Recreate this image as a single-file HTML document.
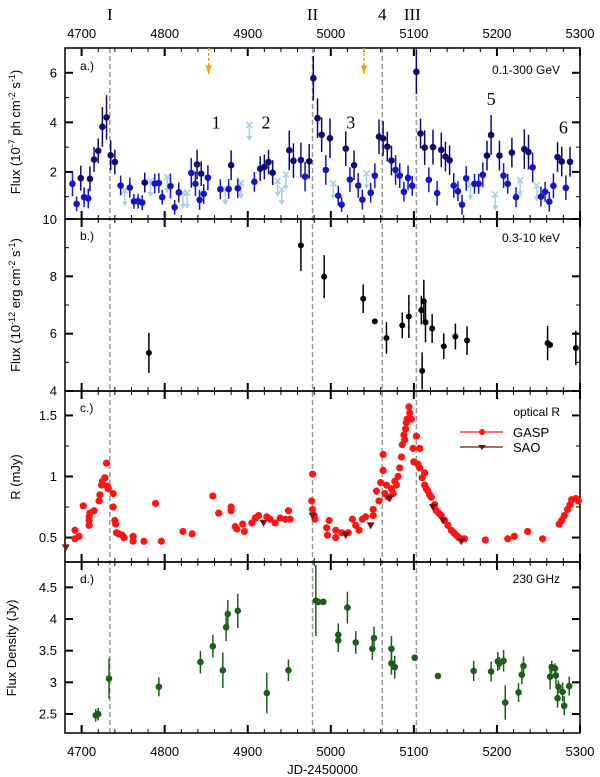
<!DOCTYPE html>
<html><head><meta charset="utf-8"><style>
html,body{margin:0;padding:0;background:#fff}
svg{display:block;font-family:"Liberation Sans",sans-serif}
</style></head><body>
<svg id="chart" width="600" height="777" viewBox="0 0 600 777" xmlns="http://www.w3.org/2000/svg"></svg>
<script>
// ---- data ----
const xTicks=[4700,4800,4900,5000,5100,5200,5300];
const flareLines=[4734,4978,5062,5103];
const flareLabels=["I","II","4","III"];
// Panel a: gamma-ray [JD, flux, err]
const gNavy=[[4699,1.75,0.5],[4710,1.72,0.5],[4715,2.5,0.5],[4720,2.85,0.5],[4725,3.82,0.8],[4730,4.2,0.9],[4735,2.67,0.6],[4740,2.4,0.5],[4776,1.57,0.4],[4839,2.3,0.6],[4844,1.93,0.5],[4880,2.27,0.6],[4915,2.13,0.5],[4920,2.2,0.5],[4925,2.4,0.5],[4930,1.97,0.5],[4950,2.87,0.8],[4955,2.45,0.7],[4964,2.48,0.7],[4974,2.43,0.7],[4979,5.78,0.9],[4984,4.17,0.8],[4989,3.5,0.7],[4999,3.36,0.8],[5018,2.94,0.7],[5028,2.27,0.6],[5058,3.42,0.7],[5063,3.35,0.7],[5068,3.02,0.6],[5073,2.46,0.6],[5103,6.04,0.9],[5108,3.55,0.6],[5113,2.98,0.7],[5123,3.0,0.7],[5133,2.89,0.7],[5138,2.62,0.6],[5143,2.47,0.6],[5188,2.66,0.6],[5193,3.49,0.8],[5203,2.66,0.6],[5218,2.78,0.6],[5233,2.92,0.8],[5238,2.8,0.7],[5273,2.6,0.6],[5278,2.42,0.6],[5288,2.41,0.6]];
const gBlue=[[4689,1.52,0.5],[4694,0.71,0.3],[4703,0.98,0.4],[4708,0.93,0.4],[4747,1.45,0.4],[4758,1.37,0.4],[4763,0.81,0.3],[4768,0.82,0.3],[4773,0.76,0.3],[4788,1.53,0.4],[4793,1.55,0.4],[4797,0.98,0.3],[4807,1.43,0.5],[4812,0.57,0.3],[4817,1.17,0.4],[4832,1.96,0.6],[4837,1.52,0.5],[4842,0.87,0.4],[4847,1.11,0.4],[4852,1.77,0.5],[4867,1.3,0.4],[4877,1.31,0.4],[4888,1.34,0.4],[4908,1.6,0.4],[4969,1.81,0.6],[4994,2.08,0.6],[5009,1.04,0.4],[5013,0.68,0.3],[5023,1.69,0.5],[5033,1.45,0.5],[5038,0.88,0.4],[5048,1.16,0.4],[5053,1.85,0.5],[5078,2.08,0.6],[5083,1.85,0.5],[5088,1.2,0.4],[5093,1.76,0.5],[5098,1.44,0.4],[5118,1.68,0.5],[5128,1.14,0.5],[5148,1.45,0.5],[5153,1.22,0.4],[5158,0.68,0.4],[5163,1.74,0.5],[5173,1.52,0.4],[5178,1.52,0.4],[5183,1.88,0.5],[5208,1.85,0.5],[5213,1.52,0.4],[5223,0.98,0.4],[5243,2.18,0.6],[5253,1.0,0.4],[5258,1.2,0.4],[5263,0.8,0.4],[5268,1.44,0.5],[5283,1.36,0.5]];
const gLimits=[[4752,1.25],[4783,1.63],[4803,1.8],[4822,1.16],[4827,1.16],[4873,1.3],[4892,1.55],[4902,3.9],[4936,1.63],[4941,1.3],[4946,1.9],[5003,1.54],[5043,1.94],[5168,1.5],[5198,1.09],[5228,1.66],[5248,1.45]];
const gOrange=[4853,5040];
const gNumLabels=["1","2","3","5","6"];
const gNumX=[4862,4922,5024,5193,5280];
const gNumY=[4.0,4.0,4.0,4.95,3.8];
// Panel b: X-ray [JD, flux, err]
const xray=[[4781,5.33,0.7],[4964,9.08,0.9],[4992,7.99,0.75],[5039,7.22,0.5],[5053,6.43,0.08],[5067,5.85,0.55],[5086,6.29,0.45],[5094,6.6,0.75],[5109,6.82,0.5],[5112,7.13,0.75],[5114,6.4,0.7],[5110,4.7,0.65],[5122,6.18,0.5],[5136,5.56,0.45],[5150,5.9,0.45],[5164,5.76,0.5],[5261,5.67,0.6],[5264,5.61,0.1],[5295,5.5,0.6]];
// Panel c: optical R GASP [JD, mJy]
const gasp=[[4692,0.56],[4692,0.49],[4697,0.51],[4702,0.76],[4709,0.6],[4709,0.64],[4709,0.67],[4710,0.7],[4715,0.72],[4721,0.8],[4722,0.85],[4724,0.93],[4725,0.96],[4728,0.99],[4730,1.11],[4731,0.92],[4732,0.9],[4738,0.86],[4738,0.75],[4740,0.64],[4741,0.61],[4742,0.54],[4745,0.53],[4749,0.52],[4751,0.5],[4762,0.51],[4762,0.47],[4775,0.47],[4789,0.78],[4796,0.47],[4822,0.55],[4833,0.53],[4858,0.84],[4865,0.7],[4880,0.75],[4880,0.72],[4885,0.59],[4887,0.57],[4894,0.61],[4896,0.55],[4905,0.62],[4909,0.66],[4913,0.68],[4923,0.67],[4927,0.65],[4933,0.62],[4939,0.66],[4945,0.65],[4949,0.72],[4951,0.65],[4978,1.02],[4977,0.8],[4978,0.73],[4980,0.68],[4981,0.65],[4995,0.58],[4996,0.52],[4998,0.64],[5006,0.56],[5006,0.5],[5013,0.54],[5021,0.54],[5026,0.65],[5030,0.6],[5034,0.56],[5038,0.65],[5042,0.67],[5051,0.73],[5051,0.68],[5055,0.88],[5058,0.8],[5060,0.95],[5063,1.18],[5063,1.05],[5065,0.86],[5067,0.93],[5069,0.83],[5073,0.9],[5075,0.86],[5077,0.96],[5079,0.93],[5081,1.0],[5083,1.07],[5085,1.16],[5086,1.26],[5088,1.34],[5089,1.3],[5090,1.39],[5091,1.44],[5092,1.47],[5094,1.57],[5095,1.52],[5097,1.47],[5099,1.23],[5100,1.12],[5103,1.33],[5105,1.1],[5107,1.23],[5107,1.07],[5110,0.99],[5113,1.03],[5113,0.93],[5115,0.9],[5117,0.88],[5119,0.85],[5121,0.83],[5125,0.77],[5127,0.72],[5130,0.7],[5133,0.68],[5137,0.64],[5141,0.6],[5145,0.56],[5148,0.54],[5151,0.52],[5154,0.5],[5157,0.49],[5161,0.49],[5186,0.48],[5213,0.49],[5221,0.51],[5237,0.55],[5255,0.49],[5275,0.61],[5278,0.64],[5281,0.68],[5285,0.73],[5288,0.77],[5290,0.81],[5295,0.82],[5298,0.8]];
const sao=[[4681,0.42],[4919,0.62],[4978,0.68],[5018,0.52],[5048,0.6],[5071,0.82],[5123,0.75],[5135,0.64],[5157,0.47]];
// Panel d: 230 GHz [JD, Jy, err]
const mm=[[4717,2.48,0.1],[4720,2.5,0.1],[4733,3.06,0.32],[4793,2.93,0.15],[4843,3.32,0.18],[4858,3.57,0.18],[4870,3.19,0.28],[4874,3.87,0.22],[4876,4.08,0.22],[4888,4.13,0.27],[4923,2.83,0.32],[4949,3.19,0.17],[4982,4.29,0.56],[4985,4.27,0.05],[4991,4.27,0.05],[5009,3.75,0.18],[5009,3.66,0.18],[5020,4.18,0.25],[5030,3.63,0.18],[5050,3.53,0.18],[5052,3.7,0.18],[5073,3.53,0.2],[5073,3.3,0.18],[5077,3.24,0.18],[5101,3.39,0.05],[5129,3.1,0.04],[5172,3.18,0.16],[5193,3.17,0.16],[5201,3.33,0.15],[5203,3.3,0.1],[5208,3.34,0.17],[5210,2.68,0.27],[5226,2.84,0.15],[5230,3.12,0.15],[5232,3.26,0.15],[5264,3.09,0.2],[5266,3.24,0.1],[5270,3.22,0.08],[5271,3.11,0.15],[5273,2.75,0.15],[5274,2.93,0.1],[5279,2.85,0.15],[5281,2.63,0.15],[5287,2.94,0.15]];

// ---- layout ----
const NS="http://www.w3.org/2000/svg";
const svg=document.getElementById("chart");
const L=65,R=580,XMIN=4680,XMAX=5300;
const X=v=>L+(v-XMIN)/(XMAX-XMIN)*(R-L);
function el(tag,attrs,parent){const e=document.createElementNS(NS,tag);for(const k in attrs)e.setAttribute(k,attrs[k]);(parent||svg).appendChild(e);return e;}
function txt(s,x,y,size,anchor,parent,fam){const t=el("text",{x:x,y:y,"font-size":size,"text-anchor":anchor||"middle",fill:"#000"},parent);if(fam)t.setAttribute("font-family",fam);t.textContent=s;return t;}

const panels=[
 {id:"a",top:48,bot:219,min:0.1,max:7.0,major:[2,4,6],minor:[1,3,5,7],labels:["2","4","6"]},
 {id:"b",top:219,bot:391,min:4,max:10,major:[4,6,8,10],minor:[5,7,9],labels:["4","6","8","10"]},
 {id:"c",top:391,bot:562,min:0.3,max:1.7,major:[0.5,1,1.5],minor:[0.75,1.25],labels:["0.5","1","1.5"]},
 {id:"d",top:562,bot:733,min:2.2,max:4.9,major:[2.5,3,3.5,4,4.5],minor:[],labels:["2.5","3","3.5","4","4.5"]}
];
panels.forEach(p=>{p.Y=v=>p.bot-(v-p.min)/(p.max-p.min)*(p.bot-p.top);});
const [pa,pb,pc,pd]=panels;

// dashed flare lines
flareLines.forEach((d,i)=>{
 const ln=el("line",{x1:X(d),x2:X(d),y1:48,y2:733,stroke:"#999","stroke-width":1.5,"stroke-dasharray":"5,3"});
 
 
 const t=txt(flareLabels[i],X(d)-(flareLabels[i]==="III"?4:0),20,17,"middle",null,'"Liberation Serif",serif');
 
 
});

// axes frames & ticks
panels.forEach(p=>{
 const g=el("g",{});
 
 
 el("rect",{x:L,y:p.top,width:R-L,height:p.bot-p.top,fill:"none",stroke:"#000","stroke-width":1.5},g);
 for(let v=XMIN;v<=XMAX;v+=20){
  const major=v%100===0;const len=major?8:4;const x=X(v);
  el("line",{x1:x,x2:x,y1:p.bot,y2:p.bot-len,stroke:"#000","stroke-width":major?2:1},g);
  el("line",{x1:x,x2:x,y1:p.top,y2:p.top+len,stroke:"#000","stroke-width":major?2:1},g);
 }
 p.major.forEach((v,i)=>{const y=p.Y(v);
  el("line",{x1:L,x2:L+8,y1:y,y2:y,stroke:"#000","stroke-width":2},g);
  el("line",{x1:R,x2:R-8,y1:y,y2:y,stroke:"#000","stroke-width":2},g);
  if(!(p.id==="b"&&v===10)){const t=txt(p.labels[i],57,y+4.5,13,"end",g);}
 });
 p.minor.forEach(v=>{const y=p.Y(v);
  el("line",{x1:L,x2:L+4,y1:y,y2:y,stroke:"#000"},g);
  el("line",{x1:R,x2:R-4,y1:y,y2:y,stroke:"#000"},g);
 });
});
txt("10",57,224,13,"end");
xTicks.forEach(v=>{
 const t=txt(String(v),X(v),38,13);
 const b=txt(String(v),X(v),756,13);
});

// panel labels
[["a.)",pa.top+22,"0.1-300 GeV",pa.top+26],["b.)",pb.top+21,"0.3-10 keV",pb.top+23],["c.)",pc.top+21,"optical R",pc.top+25],["d.)",pd.top+21,"230 GHz",pd.top+21]].forEach((a,i)=>{
 const t1=txt(a[0],80,a[1],12,"start");
 const t2=txt(a[2],560,a[3],12,"end");
});

// y-axis titles
function ytitle(html,x,y,name){const t=el("text",{x:0,y:0,"font-size":13,"text-anchor":"middle",transform:`translate(${x},${y}) rotate(-90)`});t.innerHTML=html;}
ytitle('Flux (10<tspan dy="-5" font-size="9">-7</tspan><tspan dy="5"> ph cm</tspan><tspan dy="-5" font-size="9">-2</tspan><tspan dy="5"> s</tspan><tspan dy="-5" font-size="9">-1</tspan><tspan dy="5">)</tspan>',20,132,'y-axis-title-gamma');
ytitle('Flux (10<tspan dy="-5" font-size="9">-12</tspan><tspan dy="5"> erg cm</tspan><tspan dy="-5" font-size="9">-2</tspan><tspan dy="5"> s</tspan><tspan dy="-5" font-size="9">-1</tspan><tspan dy="5">)</tspan>',20,305,'y-axis-title-xray');
ytitle('R (mJy)',20,477,'y-axis-title-optical');
ytitle('Flux Density (Jy)',16,648,'y-axis-title-radio');
const xt=txt("JD-2450000",X(4990),774,13);

// ---- marks ----
function pt(p,d,color,r,name,errw){
 const g=el("g",{});
 
 
 const x=X(d[0]),y=p.Y(d[1]);
 if(d[2]) el("line",{x1:x,x2:x,y1:Math.max(p.top,p.Y(d[1]+d[2])),y2:Math.min(p.bot,p.Y(d[1]-d[2])),stroke:color,"stroke-width":errw||1.5},g);
 el("circle",{cx:x,cy:y,r:r,fill:color},g);
}
gLimits.forEach(d=>{
 const g=el("g",{});
 
 
 const x=X(d[0]),y=pa.Y(d[1]),c="#a9cfe0";
 el("line",{x1:x,x2:x,y1:y,y2:y+14,stroke:c,"stroke-width":1.5},g);
 el("path",{d:`M${x-3},${y+11}L${x+3},${y+11}L${x},${y+16}Z`,fill:c},g);
 el("path",{d:`M${x-3},${y-3}L${x+3},${y+3}M${x+3},${y-3}L${x-3},${y+3}`,stroke:c,"stroke-width":1.5},g);
});
gBlue.forEach(d=>pt(pa,d,"#1414c8",3.3,"gamma-point-blue"));
gNavy.forEach(d=>pt(pa,d,"#0c0c70",3.3,"gamma-point-navy"));
gOrange.forEach(v=>{
 const g=el("g",{});
 
 
 const x=X(v);
 el("line",{x1:x,x2:x,y1:pa.top,y2:pa.Y(6.1),stroke:"#f0a020","stroke-width":1.5,"stroke-dasharray":"3,2"},g);
 el("path",{d:`M${x-3},${pa.Y(6.3)}L${x+3},${pa.Y(6.3)}L${x},${pa.Y(5.9)}Z`,fill:"#f0a020"},g);
});
gNumLabels.forEach((s,i)=>{
 const t=txt(s,X(gNumX[i]),pa.Y(gNumY[i])+6,18,"middle",null,'"Liberation Serif",serif');
 
 
});
xray.forEach(d=>pt(pb,d,"#000",3,"xray-point"));
gasp.forEach(d=>pt(pc,d,"#ff1414",3.6,"optical-gasp-point"));
sao.forEach(d=>{
 const g=el("g",{});
 
 
 const x=X(d[0]),y=pc.Y(d[1]);
 el("path",{d:`M${x-4},${y-3}L${x+4},${y-3}L${x},${y+4}Z`,fill:"#7a1010"},g);
});
mm.forEach(d=>pt(pd,d,"#1b5e1b",3.3,"radio-point",1.5));

// legend
const lg=el("g",{});


el("line",{x1:460,x2:503,y1:432,y2:432,stroke:"#ff1414","stroke-width":1.2},lg);
el("circle",{cx:482,cy:432,r:3,fill:"#ff1414"},lg);
txt("GASP",513,437,13,"start",lg);
el("line",{x1:460,x2:503,y1:447,y2:447,stroke:"#7a1010","stroke-width":1.2},lg);
el("path",{d:"M478,445L486,445L482,450Z",fill:"#7a1010"},lg);
txt("SAO",513,452,13,"start",lg);
</script>
</body></html>
